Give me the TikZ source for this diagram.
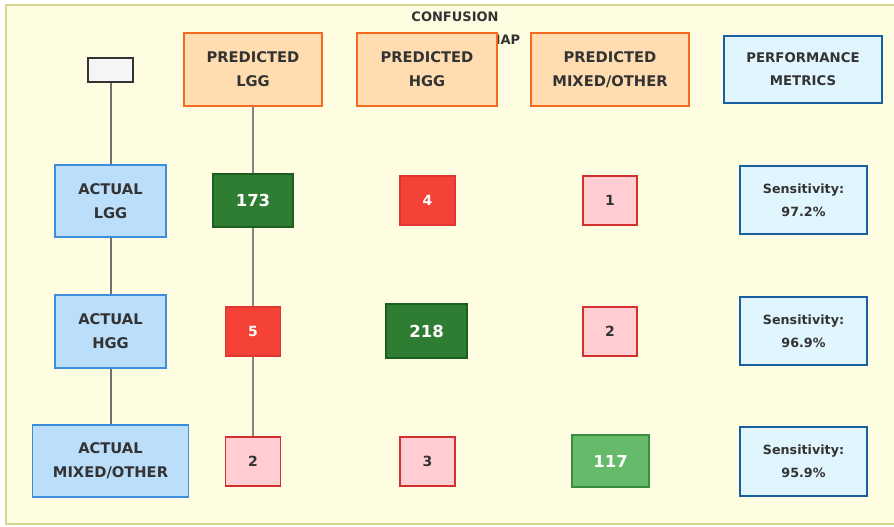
\documentclass[tikz,border=0pt]{standalone}
\usepackage{fontspec}
\setmainfont{DejaVu Sans}
\definecolor{bgyellow}{HTML}{FFFDE1}
\definecolor{frameolive}{HTML}{D6D68E}
\definecolor{peach}{HTML}{FFDDB1}
\definecolor{peachline}{HTML}{F26B21}
\definecolor{skyfill}{HTML}{BBDEFB}
\definecolor{skyline}{HTML}{3C8DDC}
\definecolor{metfill}{HTML}{E1F5FE}
\definecolor{metline}{HTML}{1A5FA0}
\definecolor{darkgreen}{HTML}{2E7D32}
\definecolor{darkgreenline}{HTML}{1B5E20}
\definecolor{midgreen}{HTML}{66BB6A}
\definecolor{midgreenline}{HTML}{388E3C}
\definecolor{hotred}{HTML}{F44336}
\definecolor{hotredline}{HTML}{E03530}
\definecolor{pinkfill}{HTML}{FFCDD2}
\definecolor{pinkline}{HTML}{D32F2F}
\definecolor{txtdark}{HTML}{333333}
\definecolor{wire}{HTML}{707070}
\begin{document}
\begin{tikzpicture}[x=1pt, y=-1pt,
    every node/.style={inner sep=0pt, align=center, text=txtdark, font=\bfseries},
    predbox/.style={draw=peachline, fill=peach, line width=1.8pt, minimum height=73pt,
        font=\bfseries\fontsize{14.7}{24}\selectfont},
    actbox/.style={draw=skyline, fill=skyfill, line width=1.6pt, minimum height=72pt,
        font=\bfseries\fontsize{14.7}{24}\selectfont},
    metbox/.style={draw=metline, fill=metfill, line width=2pt, minimum width=127pt, minimum height=68pt,
        font=\bfseries\fontsize{12.7}{23}\selectfont},
    bigcell/.style={line width=1.5pt, text=white, font=\bfseries\fontsize{16.5}{20}\selectfont},
    smallcell/.style={line width=1.5pt, minimum width=55pt, minimum height=49pt,
        font=\bfseries\fontsize{14}{16}\selectfont},
    redcell/.style={smallcell, draw=hotredline, fill=hotred, text=white},
    pinkcell/.style={smallcell, draw=pinkline, fill=pinkfill},
    wireline/.style={draw=wire, line width=2pt}]

    \useasboundingbox (0,0) rectangle (894,527);
    \fill[bgyellow] (6,5) rectangle (894,524);
    \draw[frameolive, line width=2pt] (894,5) -- (6,5) -- (6,524) -- (894,524);

    \node[font=\bfseries\fontsize{13}{23}\selectfont] (title) at (455,28.5) {CONFUSION\\MATRIX HEATMAP};

    \node[draw=txtdark, fill=gray!8, line width=1.6pt, minimum width=45pt, minimum height=24pt] (corner) at (110.5,70) {};
    \node[predbox, minimum width=138pt] (predLGG) at (253,69.5) {PREDICTED\\LGG};
    \node[predbox, minimum width=140pt] (predHGG) at (427,69.5) {PREDICTED\\HGG};
    \node[predbox, minimum width=158pt] (predMIX) at (610,69.5) {PREDICTED\\MIXED/OTHER};
    \node[metbox, minimum width=158pt, minimum height=67pt, font=\bfseries\fontsize{13.3}{23}\selectfont] (perf) at (803,69.5) {PERFORMANCE\\METRICS};

    \node[actbox, minimum width=111pt] (actLGG) at (110.5,201) {ACTUAL\\LGG};
    \node[actbox, minimum width=111pt, minimum height=73pt] (actHGG) at (110.5,331.5) {ACTUAL\\HGG};
    \node[actbox, minimum width=156pt] (actMIX) at (110.5,461) {ACTUAL\\MIXED/OTHER};

    \node[bigcell, draw=darkgreenline, fill=darkgreen, minimum width=80pt, minimum height=53pt] (cellLL) at (253,200.5) {173};
    \node[redcell] (cellLH) at (427.5,200.5) {4};
    \node[pinkcell, minimum width=54pt] (cellLM) at (610,200.5) {1};

    \node[redcell] (cellHL) at (253,331.5) {5};
    \node[bigcell, draw=darkgreenline, fill=darkgreen, minimum width=81pt, minimum height=54pt] (cellHH) at (426.5,331) {218};
    \node[pinkcell, minimum width=54pt] (cellHM) at (610,331.5) {2};

    \node[pinkcell] (cellML) at (253,461.5) {2};
    \node[pinkcell] (cellMH) at (427.5,461.5) {3};
    \node[bigcell, draw=midgreenline, fill=midgreen, minimum width=77pt, minimum height=52pt] (cellMM) at (610.5,461) {117};

    \node[metbox] (sensLGG) at (803.5,200) {Sensitivity:\\97.2\%};
    \node[metbox] (sensHGG) at (803.5,331) {Sensitivity:\\96.9\%};
    \node[metbox, minimum height=69pt] (sensMIX) at (803.5,461.5) {Sensitivity:\\95.9\%};

    \draw[wireline] (corner) -- (actLGG);
    \draw[wireline] (actLGG) -- (actHGG);
    \draw[wireline] (actHGG) -- (actMIX);
    \draw[wireline, line width=1.6pt, draw=wire!85] (predLGG) -- (cellLL);
    \draw[wireline, line width=1.6pt, draw=wire!85] (cellLL) -- (cellHL);
    \draw[wireline, line width=1.6pt, draw=wire!85] (cellHL) -- (cellML);

\end{tikzpicture}
\end{document}
